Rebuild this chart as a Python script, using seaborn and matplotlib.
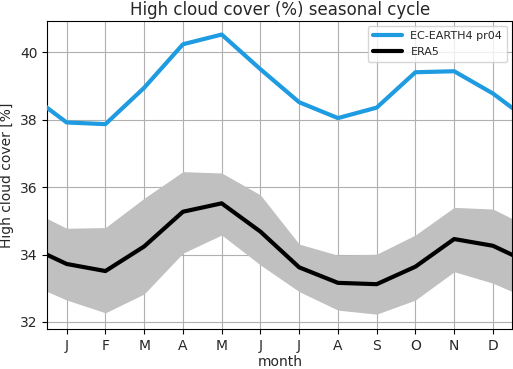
import numpy as np
import pandas as pd
import matplotlib
matplotlib.use("Agg")
import matplotlib.pyplot as plt
import seaborn as sns

# month positions: 0 = December (wrap), 1..12 = Jan..Dec, 13 = January (wrap)
months = list(range(0, 14))
month_labels = ["J", "F", "M", "A", "M", "J", "J", "A", "S", "O", "N", "D"]

ec_earth = [38.78, 37.92, 37.87, 38.95, 40.24, 40.53, 39.50, 38.52, 38.05, 38.36, 39.41, 39.44, 38.78, 37.92]
era5 = [34.26, 33.72, 33.51, 34.24, 35.27, 35.52, 34.68, 33.62, 33.16, 33.12, 33.64, 34.46, 34.26, 33.72]
era5_upper = [35.35, 34.78, 34.80, 35.67, 36.46, 36.42, 35.77, 34.31, 33.98, 34.01, 34.58, 35.40, 35.35, 34.78]
era5_lower = [33.15, 32.65, 32.27, 32.83, 34.04, 34.58, 33.69, 32.90, 32.35, 32.23, 32.65, 33.49, 33.15, 32.65]

df = pd.DataFrame({
    "month": months * 2,
    "value": ec_earth + era5,
    "source": ["EC-EARTH4 pr04"] * len(months) + ["ERA5"] * len(months),
})

sns.set_style("white")
plt.rcParams["font.family"] = ["DejaVu Sans"]

fig = plt.figure(figsize=(5.13, 3.69), dpi=100)
ax = fig.add_axes([47.3 / 513, 1 - 329 / 369, (512.3 - 47.3) / 513, (329 - 20.7) / 369])

ax.fill_between(months, era5_lower, era5_upper, color="#c0c0c0", linewidth=0, zorder=1)
sns.lineplot(data=df, x="month", y="value", hue="source",
             palette={"EC-EARTH4 pr04": "#1e9be1", "ERA5": "black"},
             linewidth=3, ax=ax, zorder=3)

ax.set_xlim(0.5, 12.5)
ax.set_ylim(31.79, 40.94)
ax.set_xticks(range(1, 13))
ax.set_xticklabels(month_labels)
ax.set_yticks([32, 34, 36, 38, 40])
ax.grid(True, color="#b0b0b0", linewidth=0.8, zorder=0)
ax.set_axisbelow(True)
for s in ax.spines.values():
    s.set_color("black")
    s.set_linewidth(0.8)
ax.tick_params(axis="both", direction="out", length=3.5, width=0.8, labelsize=10, color="black", bottom=True, left=True)

ax.set_xlabel("month", fontsize=10, labelpad=2)
ax.set_ylabel("High cloud cover [%]", fontsize=10)
ax.set_title("High cloud cover (%) seasonal cycle", fontsize=12, pad=4)

leg = ax.legend(loc="upper right", fontsize=8, frameon=True, title=None,
                handlelength=2.6, labelspacing=0.6)
leg.get_frame().set_edgecolor("#cccccc")
for line in leg.get_lines():
    line.set_linewidth(3)

fig.savefig("out.png", dpi=100)
